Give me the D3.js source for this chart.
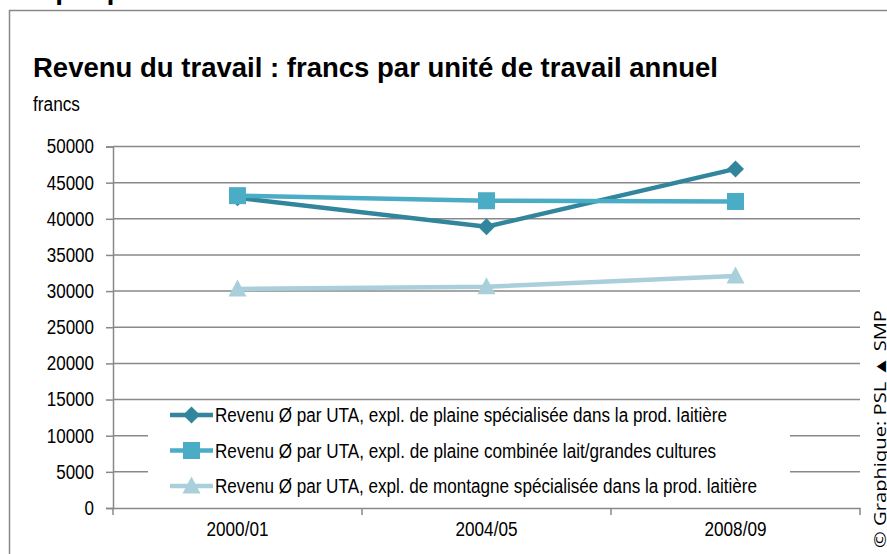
<!DOCTYPE html>
<html><head><meta charset="utf-8">
<script src="https://cdn.jsdelivr.net/npm/d3@7"></script>
<style>
body{margin:0;background:#fff;}
svg{display:block;}
text{font-family:"Liberation Sans",Arial,sans-serif;fill:#000;}
</style></head><body>
<script>
const categories = ["2000/01","2004/05","2008/09"];
const seriesNames = [
  "Revenu Ø par UTA, expl. de plaine spécialisée  dans la prod. laitière",
  "Revenu Ø par UTA, expl. de plaine combinée lait/grandes cultures",
  "Revenu Ø par UTA, expl. de montagne spécialisée  dans la prod. laitière"
];
const plaineSpec = [42900, 38900, 46900];
const plaineComb = [43200, 42500, 42400];
const montagne = [30300, 30600, 32100];
const yTicks = [0,5000,10000,15000,20000,25000,30000,35000,40000,45000,50000];
const title = "Revenu du travail : francs par unité de travail annuel";
const yLabel = "francs";
const credit = "© Graphique: PSL ▲ SMP";
const header = "Graphique 3";

const W=887,H=554;
const NARROW=0.85;
const svg=d3.select("body").append("svg").attr("width",W).attr("height",H);
function narrow(sel,ratio){
  sel.each(function(){
    const w=this.getComputedTextLength();
    d3.select(this).attr("textLength",w*(ratio||NARROW)).attr("lengthAdjust","spacingAndGlyphs");
  });
}

// header (cut off at top, as in the reference)
svg.append("text").attr("x",7).attr("y",-1).attr("font-size",28).attr("font-weight","bold").text(header);
// outer frame
svg.append("path").attr("d",`M9.5,${H+2}V10.5H${W+2}`).attr("fill","none").attr("stroke","#888").attr("stroke-width",1.5);

svg.append("text").attr("x",33).attr("y",77).attr("font-size",27).attr("font-weight","bold")
  .attr("textLength",685).attr("lengthAdjust","spacingAndGlyphs").text(title);
svg.append("text").attr("x",33).attr("y",111).attr("font-size",20)
  .attr("textLength",47).attr("lengthAdjust","spacingAndGlyphs").text(yLabel);

const x=d3.scaleBand().domain(categories).range([113,860]);
const y=d3.scaleLinear().domain([0,50000]).range([508,146.5]);

// gridlines
svg.append("g").selectAll("line").data(yTicks.filter(d=>d>0)).join("line")
  .attr("x1",113).attr("x2",860).attr("y1",d=>y(d)).attr("y2",d=>y(d))
  .attr("stroke","#898989").attr("stroke-width",1.5);

const yAxis=svg.append("g").attr("transform","translate(113,0)")
  .call(d3.axisLeft(y).tickValues(yTicks).tickSize(7).tickPadding(12).tickFormat(d3.format("d")));
yAxis.select(".domain").attr("stroke","#898989").attr("stroke-width",1.5);
yAxis.selectAll(".tick line").attr("stroke","#898989").attr("stroke-width",1.5);
yAxis.selectAll("text").attr("font-size",20).attr("fill","#000").style("font-family","'Liberation Sans',Arial,sans-serif").call(narrow);

const xAxis=svg.append("g").attr("transform","translate(0,508)")
  .call(d3.axisBottom(x).tickSize(0).tickPadding(14));
xAxis.select(".domain").attr("stroke","#898989").attr("stroke-width",1.5);
xAxis.selectAll("text").attr("font-size",20).attr("fill","#000").style("font-family","'Liberation Sans',Arial,sans-serif")
  .attr("textLength",62).attr("lengthAdjust","spacingAndGlyphs");
// boundary ticks
const bounds=[0,1,2].map(i=>x.range()[0]+i*x.step()).concat([x.range()[1]]);
svg.append("g").selectAll("line").data(bounds).join("line")
  .attr("x1",d=>d).attr("x2",d=>d).attr("y1",508).attr("y2",515)
  .attr("stroke","#898989").attr("stroke-width",1.5);

const series=[
  {name:seriesNames[0],values:plaineSpec,color:"#31859C",marker:"diamond",tl:512},
  {name:seriesNames[1],values:plaineComb,color:"#4BACC6",marker:"square",tl:501},
  {name:seriesNames[2],values:montagne,color:"#A9CFDB",marker:"triangle",tl:542}
];
function mk(type){
  if(type==="diamond") return "M0,-8.5L8.5,0L0,8.5L-8.5,0Z";
  if(type==="square") return "M-8.5,-8.5H8.5V8.5H-8.5Z";
  return "M0,-9.5L9,7.5H-9Z";
}

const line=d3.line().x((d,i)=>x(categories[i])+x.bandwidth()/2).y(d=>y(d));
const order=[2,0,1];
order.forEach(k=>{
  const s=series[k];
  svg.append("path").datum(s.values).attr("d",line).attr("fill","none")
    .attr("stroke",s.color).attr("stroke-width",4.5);
  svg.append("g").selectAll("path").data(s.values).join("path")
    .attr("transform",(d,i)=>`translate(${x(categories[i])+x.bandwidth()/2},${y(d)})`)
    .attr("d",mk(s.marker)).attr("fill",s.color);
});

// legend
const lg=svg.append("g");
lg.append("rect").attr("x",148).attr("y",404).attr("width",642).attr("height",90).attr("fill","#fff");
series.forEach((s,i)=>{
  const cy=415+i*35.5;
  lg.append("line").attr("x1",170).attr("x2",213).attr("y1",cy).attr("y2",cy)
    .attr("stroke",s.color).attr("stroke-width",4.5);
  lg.append("path").attr("transform",`translate(191.5,${cy})`).attr("d",mk(s.marker)).attr("fill",s.color);
  lg.append("text").attr("x",215).attr("y",cy+7).attr("font-size",20)
    .attr("textLength",s.tl).attr("lengthAdjust","spacingAndGlyphs").text(s.name);
});

// credit vertical (right edge, slightly clipped as in the reference)
svg.append("text").attr("transform","translate(886,548) rotate(-90)").attr("font-size",16)
  .style("font-family","'Open Sans','Liberation Sans',sans-serif")
  .attr("textLength",238).attr("lengthAdjust","spacingAndGlyphs").text(credit);
</script>
</body></html>
